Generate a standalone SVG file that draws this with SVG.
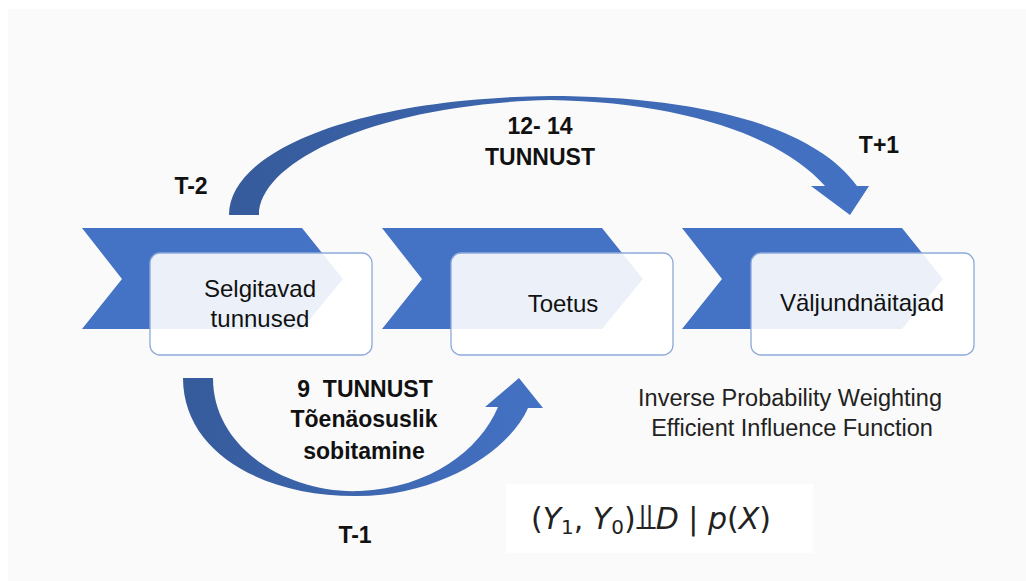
<svg xmlns="http://www.w3.org/2000/svg" width="1026" height="581" viewBox="0 0 1026 581">
<defs>
<linearGradient id="gTop" x1="229" y1="0" x2="869" y2="0" gradientUnits="userSpaceOnUse">
<stop offset="0" stop-color="#365b9b"/><stop offset="1" stop-color="#4472c4"/>
</linearGradient>
<linearGradient id="gBot" x1="183" y1="0" x2="543" y2="0" gradientUnits="userSpaceOnUse">
<stop offset="0" stop-color="#365b9b"/><stop offset="1" stop-color="#4472c4"/>
</linearGradient>
<style>
.chev{fill:#4472c4}
.box{fill:#ffffff;fill-opacity:0.9;stroke:#8eaadb;stroke-width:1.3}
.nt{font-family:"Liberation Sans",Arial,sans-serif;font-size:24px;fill:#111;text-anchor:middle}
.lb{font-family:"Liberation Sans",Arial,sans-serif;font-size:23px;font-weight:bold;fill:#111;text-anchor:middle}
.mt{font-family:"Liberation Sans",Arial,sans-serif;font-size:23.5px;fill:#222;text-anchor:middle}
.fm{font-family:"DejaVu Sans","Liberation Sans",sans-serif;font-size:30px;fill:#222}
</style>
</defs>
<rect x="0" y="0" width="1026" height="581" fill="#ffffff"/>
<rect x="8" y="9" width="1018" height="572" fill="#fafafa"/>

<g id="connectors">
<path id="arc-top" fill="url(#gTop)" d="M229,215 C229,150 360,98 550,96 C680,96 810,120 857,186 L869,186 L850,215 L811,186 L825,186 C780,135 680,102 550,100 C380,104 259,160 259,215 Z"/>
<path id="arc-bottom" fill="url(#gBot)" d="M183,378 C183,452 262,496 355,496 C440,497 510,450 528,408 L543,408 L519,378 L485,407 L498,407 C480,450 430,488 360,491 C290,494 213,450 213,378 Z"/>
</g>

<g id="node-selgitavad">
<polygon class="chev" points="82,228 302,228 343,279 302,329 82,329 122,279"/>
<rect class="box" x="150" y="253" width="222" height="102" rx="10"/>
<text class="nt" x="260" y="297">Selgitavad</text>
<text class="nt" x="260" y="327">tunnused</text>
</g>

<g id="node-toetus">
<polygon class="chev" points="382,228 602,228 643,279 602,329 382,329 422,279"/>
<rect class="box" x="451" y="253" width="222" height="102" rx="10"/>
<text class="nt" x="563" y="312">Toetus</text>
</g>

<g id="node-valjund">
<polygon class="chev" points="682,228 902,228 943,279 902,329 682,329 722,279"/>
<rect class="box" x="751" y="253" width="223" height="102" rx="10"/>
<text class="nt" x="862" y="311">Väljundnäitajad</text>
</g>

<g id="labels">
<text class="lb" x="191" y="194">T-2</text>
<text class="lb" x="540" y="134">12- 14</text>
<text class="lb" x="540" y="165">TUNNUST</text>
<text class="lb" x="879" y="153">T+1</text>
<text class="lb" x="365" y="397" xml:space="preserve">9  TUNNUST</text>
<text class="lb" x="364" y="427">Tõenäosuslik</text>
<text class="lb" x="364" y="459">sobitamine</text>
<text class="lb" x="355" y="543">T-1</text>
<text class="mt" x="790" y="406">Inverse Probability Weighting</text>
<text class="mt" x="792" y="436">Efficient Influence Function</text>
</g>

<g id="formula">
<rect x="506" y="484" width="307" height="69" fill="#ffffff"/>
<text class="fm" x="531" y="529">(<tspan font-style="italic">Y</tspan><tspan font-size="20" dy="5">1</tspan><tspan dy="-5">, </tspan><tspan font-style="italic">Y</tspan><tspan font-size="20" dy="5">0</tspan><tspan dy="-5">)</tspan><tspan font-size="36">⫫</tspan><tspan font-style="italic">D</tspan><tspan> | </tspan><tspan font-style="italic">p</tspan><tspan>(</tspan><tspan font-style="italic">X</tspan><tspan>)</tspan></text>
</g>
</svg>
